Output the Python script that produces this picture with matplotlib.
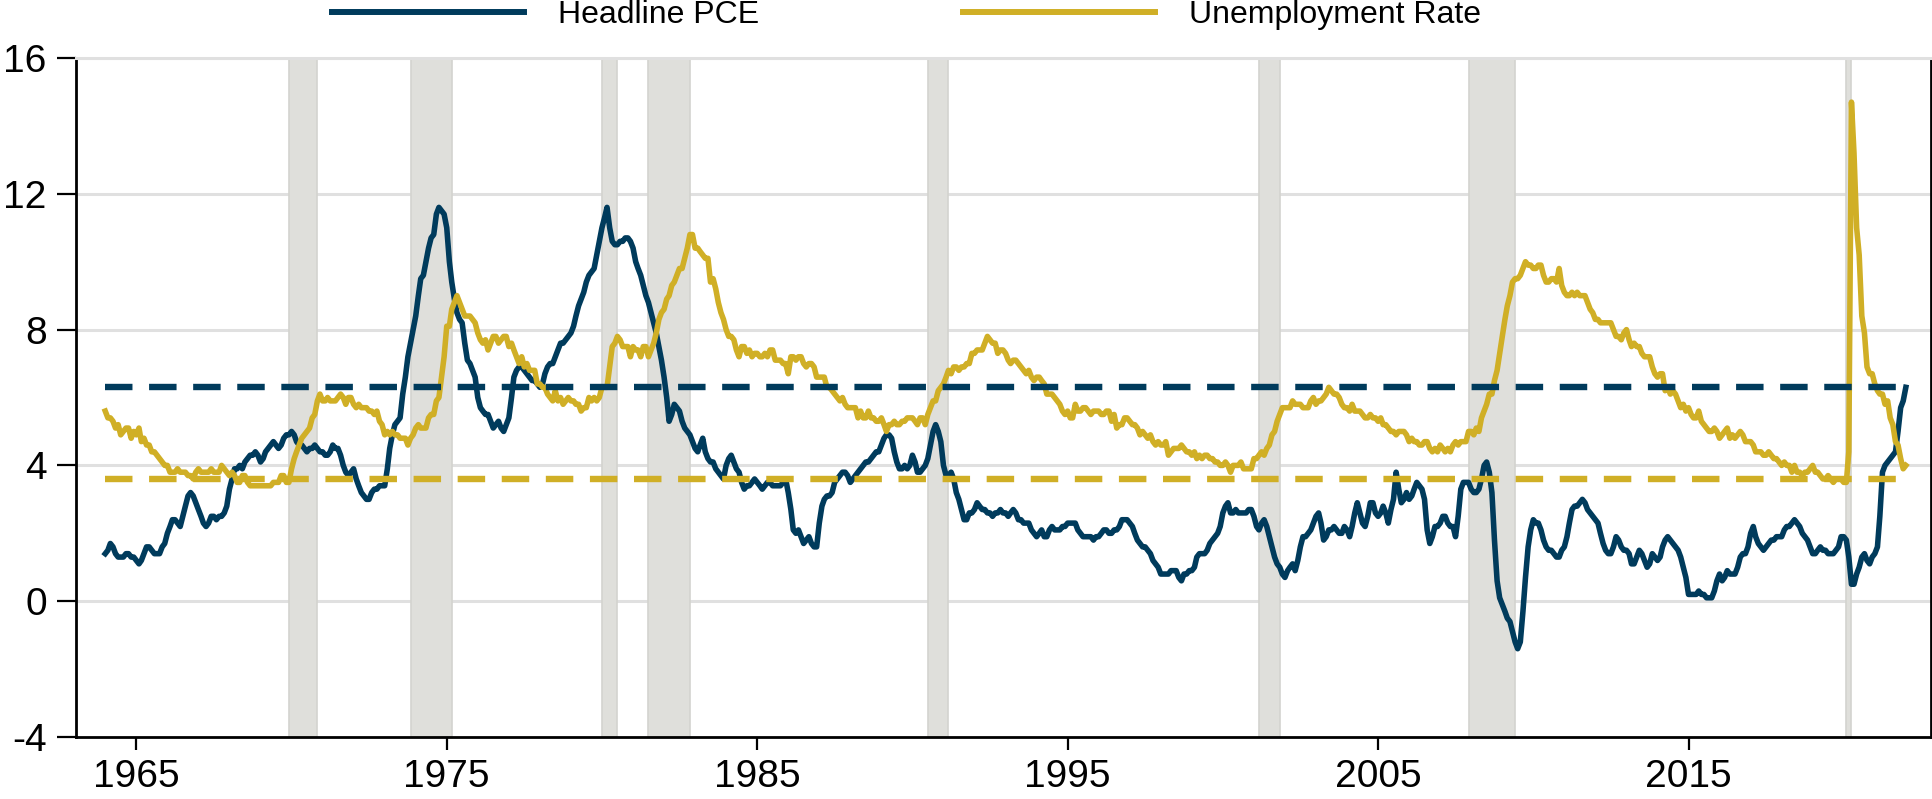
import numpy as np
import pandas as pd
import matplotlib
matplotlib.use("Agg")
import matplotlib.pyplot as plt
import matplotlib.dates as mdates
from matplotlib.lines import Line2D

plt.rcParams["font.family"] = ["Liberation Sans", "DejaVu Sans"]
plt.rcParams["axes.unicode_minus"] = False

NAVY = "#003B5C"
GOLD = "#D0AF26"
GRID = "#e0e0e0"
SHADE = "#dfdfdb"

# ── Data (monthly, Jan 1964 – Jan 2022) ───────────────────────────────────────
pce_by_year = [
    [1.4, 1.5, 1.7, 1.6, 1.4, 1.3, 1.3, 1.3, 1.4, 1.4, 1.3, 1.3],  # 1964
    [1.2, 1.1, 1.2, 1.4, 1.6, 1.6, 1.5, 1.4, 1.4, 1.4, 1.6, 1.7],
    [2.0, 2.2, 2.4, 2.4, 2.3, 2.2, 2.5, 2.8, 3.1, 3.2, 3.1, 2.9],
    [2.7, 2.5, 2.3, 2.2, 2.3, 2.5, 2.5, 2.4, 2.5, 2.5, 2.6, 2.8],
    [3.3, 3.6, 3.9, 3.9, 4.0, 3.9, 4.1, 4.2, 4.3, 4.3, 4.4, 4.3],
    [4.1, 4.2, 4.4, 4.5, 4.6, 4.7, 4.6, 4.5, 4.6, 4.8, 4.9, 4.9],
    [5.0, 4.9, 4.7, 4.6, 4.6, 4.5, 4.4, 4.5, 4.5, 4.6, 4.5, 4.4],  # 1970
    [4.4, 4.3, 4.3, 4.4, 4.6, 4.5, 4.5, 4.3, 4.0, 3.8, 3.7, 3.8],
    [3.9, 3.6, 3.4, 3.2, 3.1, 3.0, 3.0, 3.2, 3.3, 3.3, 3.4, 3.4],
    [3.4, 3.9, 4.5, 4.9, 5.2, 5.3, 5.4, 6.1, 6.6, 7.2, 7.6, 8.0],
    [8.4, 9.0, 9.5, 9.6, 10.0, 10.4, 10.7, 10.8, 11.4, 11.6, 11.5, 11.4],
    [11.0, 10.0, 9.4, 8.9, 8.5, 8.3, 8.2, 7.6, 7.1, 7.0, 6.8, 6.6],
    [6.0, 5.7, 5.6, 5.5, 5.5, 5.3, 5.1, 5.2, 5.3, 5.1, 5.0, 5.2],
    [5.4, 6.0, 6.6, 6.8, 6.9, 6.9, 6.8, 6.7, 6.6, 6.5, 6.5, 6.4],
    [6.3, 6.4, 6.7, 6.9, 7.0, 7.0, 7.2, 7.4, 7.6, 7.6, 7.7, 7.8],
    [7.9, 8.1, 8.4, 8.7, 8.9, 9.1, 9.4, 9.6, 9.7, 9.8, 10.2, 10.6],
    [11.0, 11.3, 11.6, 11.0, 10.6, 10.5, 10.5, 10.6, 10.6, 10.7, 10.7, 10.6],  # 1980
    [10.4, 10.0, 9.8, 9.6, 9.3, 9.0, 8.8, 8.5, 8.2, 7.9, 7.5, 7.1],
    [6.6, 6.0, 5.3, 5.5, 5.8, 5.7, 5.6, 5.3, 5.1, 5.0, 4.9, 4.7],
    [4.5, 4.4, 4.6, 4.8, 4.4, 4.2, 4.1, 4.1, 3.9, 3.8, 3.7, 3.6],
    [4.0, 4.2, 4.3, 4.1, 3.9, 3.8, 3.5, 3.3, 3.4, 3.4, 3.5, 3.6],
    [3.5, 3.4, 3.3, 3.4, 3.5, 3.5, 3.4, 3.4, 3.4, 3.4, 3.5, 3.6],
    [3.2, 2.7, 2.1, 2.0, 2.1, 1.9, 1.7, 1.8, 1.9, 1.7, 1.6, 1.6],
    [2.3, 2.8, 3.0, 3.1, 3.1, 3.2, 3.5, 3.6, 3.7, 3.8, 3.8, 3.7],
    [3.5, 3.6, 3.7, 3.8, 3.9, 4.0, 4.1, 4.1, 4.2, 4.3, 4.4, 4.4],
    [4.6, 4.8, 4.9, 4.9, 4.8, 4.4, 4.1, 3.9, 3.9, 4.0, 3.9, 4.0],
    [4.3, 4.1, 3.8, 3.8, 3.9, 4.0, 4.2, 4.6, 5.0, 5.2, 5.0, 4.7],  # 1990
    [4.0, 3.7, 3.7, 3.8, 3.6, 3.2, 3.0, 2.7, 2.4, 2.4, 2.6, 2.6],
    [2.7, 2.9, 2.8, 2.7, 2.7, 2.6, 2.6, 2.5, 2.6, 2.6, 2.7, 2.6],
    [2.6, 2.5, 2.6, 2.7, 2.6, 2.4, 2.4, 2.3, 2.3, 2.3, 2.1, 2.0],
    [1.9, 2.0, 2.1, 1.9, 1.9, 2.1, 2.2, 2.1, 2.1, 2.1, 2.2, 2.2],
    [2.3, 2.3, 2.3, 2.3, 2.1, 2.0, 1.9, 1.9, 1.9, 1.9, 1.8, 1.9],
    [1.9, 2.0, 2.1, 2.1, 2.0, 2.0, 2.1, 2.1, 2.2, 2.4, 2.4, 2.4],
    [2.3, 2.2, 2.0, 1.8, 1.7, 1.6, 1.6, 1.5, 1.4, 1.2, 1.1, 1.0],
    [0.8, 0.8, 0.8, 0.8, 0.9, 0.9, 0.9, 0.7, 0.6, 0.8, 0.8, 0.9],
    [0.9, 1.0, 1.3, 1.4, 1.4, 1.4, 1.5, 1.7, 1.8, 1.9, 2.0, 2.2],
    [2.6, 2.8, 2.9, 2.6, 2.6, 2.7, 2.6, 2.6, 2.6, 2.6, 2.7, 2.7],  # 2000
    [2.5, 2.2, 2.1, 2.3, 2.4, 2.2, 1.9, 1.6, 1.3, 1.1, 1.0, 0.8],
    [0.7, 0.9, 1.0, 1.1, 0.9, 1.2, 1.6, 1.9, 1.9, 2.0, 2.1, 2.3],
    [2.5, 2.6, 2.3, 1.8, 1.9, 2.1, 2.1, 2.2, 2.1, 2.0, 2.0, 2.2],
    [2.1, 1.9, 2.2, 2.6, 2.9, 2.6, 2.3, 2.2, 2.5, 2.9, 2.9, 2.6],
    [2.5, 2.6, 2.8, 2.6, 2.3, 2.7, 3.0, 3.8, 3.3, 2.9, 3.0, 3.2],
    [3.0, 3.1, 3.3, 3.5, 3.4, 3.3, 3.0, 2.1, 1.7, 1.9, 2.2, 2.2],
    [2.3, 2.5, 2.5, 2.3, 2.2, 2.2, 1.9, 2.5, 3.3, 3.5, 3.5, 3.5],
    [3.3, 3.2, 3.2, 3.3, 3.6, 4.0, 4.1, 3.8, 3.2, 1.8, 0.6, 0.1],
    [-0.1, -0.3, -0.5, -0.6, -0.9, -1.2, -1.4, -1.2, -0.3, 0.7, 1.6, 2.1],
    [2.4, 2.3, 2.3, 2.1, 1.8, 1.6, 1.5, 1.5, 1.4, 1.3, 1.3, 1.5],  # 2010
    [1.6, 1.9, 2.3, 2.7, 2.8, 2.8, 2.9, 3.0, 2.9, 2.7, 2.6, 2.5],
    [2.4, 2.3, 2.0, 1.7, 1.5, 1.4, 1.4, 1.6, 1.9, 1.8, 1.6, 1.5],
    [1.5, 1.4, 1.1, 1.1, 1.3, 1.5, 1.4, 1.2, 1.0, 1.1, 1.4, 1.3],
    [1.2, 1.3, 1.6, 1.8, 1.9, 1.8, 1.7, 1.6, 1.5, 1.3, 1.0, 0.7],
    [0.2, 0.2, 0.2, 0.2, 0.3, 0.2, 0.2, 0.1, 0.1, 0.1, 0.3, 0.6],
    [0.8, 0.6, 0.7, 0.9, 0.8, 0.8, 0.8, 1.0, 1.3, 1.4, 1.4, 1.6],
    [2.0, 2.2, 1.9, 1.7, 1.6, 1.5, 1.6, 1.7, 1.8, 1.8, 1.9, 1.9],
    [1.9, 2.1, 2.2, 2.2, 2.3, 2.4, 2.3, 2.2, 2.0, 1.9, 1.8, 1.6],
    [1.4, 1.4, 1.5, 1.6, 1.5, 1.5, 1.4, 1.4, 1.4, 1.5, 1.6, 1.9],
    [1.9, 1.8, 1.3, 0.5, 0.5, 0.8, 1.0, 1.3, 1.4, 1.2, 1.1, 1.3],  # 2020
    [1.4, 1.6, 2.5, 3.8, 4.0, 4.1, 4.2, 4.3, 4.4, 5.0, 5.7, 5.9],
    [6.3],                                                          # 2022
]

unrate_by_year = [
    [5.6, 5.4, 5.4, 5.3, 5.1, 5.2, 4.9, 5.0, 5.1, 5.1, 4.8, 5.0],  # 1964
    [4.9, 5.1, 4.7, 4.8, 4.6, 4.6, 4.4, 4.4, 4.3, 4.2, 4.1, 4.0],
    [4.0, 3.8, 3.8, 3.8, 3.9, 3.8, 3.8, 3.8, 3.7, 3.7, 3.6, 3.8],
    [3.9, 3.8, 3.8, 3.8, 3.8, 3.9, 3.8, 3.8, 3.8, 4.0, 3.9, 3.8],
    [3.7, 3.8, 3.7, 3.5, 3.5, 3.7, 3.7, 3.5, 3.4, 3.4, 3.4, 3.4],
    [3.4, 3.4, 3.4, 3.4, 3.4, 3.5, 3.5, 3.5, 3.7, 3.7, 3.5, 3.5],
    [3.9, 4.2, 4.4, 4.6, 4.8, 4.9, 5.0, 5.1, 5.4, 5.5, 5.9, 6.1],  # 1970
    [5.9, 5.9, 6.0, 5.9, 5.9, 5.9, 6.0, 6.1, 6.0, 5.8, 6.0, 6.0],
    [5.8, 5.7, 5.8, 5.7, 5.7, 5.7, 5.6, 5.6, 5.5, 5.6, 5.3, 5.2],
    [4.9, 5.0, 4.9, 5.0, 4.9, 4.9, 4.8, 4.8, 4.8, 4.6, 4.8, 4.9],
    [5.1, 5.2, 5.1, 5.1, 5.1, 5.4, 5.5, 5.5, 5.9, 6.0, 6.6, 7.2],
    [8.1, 8.1, 8.6, 8.8, 9.0, 8.8, 8.6, 8.4, 8.4, 8.4, 8.3, 8.2],
    [7.9, 7.7, 7.6, 7.7, 7.4, 7.6, 7.8, 7.8, 7.6, 7.7, 7.8, 7.8],
    [7.5, 7.6, 7.4, 7.2, 7.0, 7.2, 6.9, 7.0, 6.8, 6.8, 6.8, 6.4],
    [6.4, 6.3, 6.3, 6.1, 6.0, 5.9, 6.2, 5.9, 6.0, 5.8, 5.9, 6.0],
    [5.9, 5.9, 5.8, 5.8, 5.6, 5.7, 5.7, 6.0, 5.9, 6.0, 5.9, 6.0],
    [6.3, 6.3, 6.3, 6.9, 7.5, 7.6, 7.8, 7.7, 7.5, 7.5, 7.5, 7.2],  # 1980
    [7.5, 7.4, 7.4, 7.2, 7.5, 7.5, 7.2, 7.4, 7.6, 7.9, 8.3, 8.5],
    [8.6, 8.9, 9.0, 9.3, 9.4, 9.6, 9.8, 9.8, 10.1, 10.4, 10.8, 10.8],
    [10.4, 10.4, 10.3, 10.2, 10.1, 10.1, 9.4, 9.5, 9.2, 8.8, 8.5, 8.3],
    [8.0, 7.8, 7.8, 7.7, 7.4, 7.2, 7.5, 7.5, 7.3, 7.4, 7.2, 7.3],
    [7.3, 7.2, 7.2, 7.3, 7.2, 7.4, 7.4, 7.1, 7.1, 7.1, 7.0, 7.0],
    [6.7, 7.2, 7.2, 7.1, 7.2, 7.2, 7.0, 6.9, 7.0, 7.0, 6.9, 6.6],
    [6.6, 6.6, 6.6, 6.3, 6.3, 6.2, 6.1, 6.0, 5.9, 6.0, 5.8, 5.7],
    [5.7, 5.7, 5.7, 5.4, 5.6, 5.4, 5.4, 5.6, 5.4, 5.4, 5.3, 5.3],
    [5.4, 5.2, 5.0, 5.2, 5.2, 5.3, 5.2, 5.2, 5.3, 5.3, 5.4, 5.4],
    [5.4, 5.3, 5.2, 5.4, 5.4, 5.2, 5.5, 5.7, 5.9, 5.9, 6.2, 6.3],  # 1990
    [6.4, 6.6, 6.8, 6.7, 6.9, 6.9, 6.8, 6.9, 6.9, 7.0, 7.0, 7.3],
    [7.3, 7.4, 7.4, 7.4, 7.6, 7.8, 7.7, 7.6, 7.6, 7.3, 7.4, 7.4],
    [7.3, 7.1, 7.0, 7.1, 7.1, 7.0, 6.9, 6.8, 6.7, 6.8, 6.6, 6.5],
    [6.6, 6.6, 6.5, 6.4, 6.1, 6.1, 6.1, 6.0, 5.9, 5.8, 5.6, 5.5],
    [5.6, 5.4, 5.4, 5.8, 5.6, 5.6, 5.7, 5.7, 5.6, 5.5, 5.6, 5.6],
    [5.6, 5.5, 5.5, 5.6, 5.6, 5.3, 5.5, 5.1, 5.2, 5.2, 5.4, 5.4],
    [5.3, 5.2, 5.2, 5.1, 4.9, 5.0, 4.9, 4.8, 4.9, 4.7, 4.6, 4.7],
    [4.6, 4.6, 4.7, 4.3, 4.4, 4.5, 4.5, 4.5, 4.6, 4.5, 4.4, 4.4],
    [4.3, 4.4, 4.2, 4.3, 4.2, 4.3, 4.3, 4.2, 4.2, 4.1, 4.1, 4.0],
    [4.0, 4.1, 4.0, 3.8, 4.0, 4.0, 4.0, 4.1, 3.9, 3.9, 3.9, 3.9],  # 2000
    [4.2, 4.2, 4.3, 4.4, 4.3, 4.5, 4.6, 4.9, 5.0, 5.3, 5.5, 5.7],
    [5.7, 5.7, 5.7, 5.9, 5.8, 5.8, 5.8, 5.7, 5.7, 5.7, 5.9, 6.0],
    [5.8, 5.9, 5.9, 6.0, 6.1, 6.3, 6.2, 6.1, 6.1, 6.0, 5.8, 5.7],
    [5.7, 5.6, 5.8, 5.6, 5.6, 5.6, 5.5, 5.4, 5.4, 5.5, 5.4, 5.4],
    [5.3, 5.4, 5.2, 5.2, 5.1, 5.0, 5.0, 4.9, 5.0, 5.0, 5.0, 4.9],
    [4.7, 4.8, 4.7, 4.7, 4.6, 4.6, 4.7, 4.7, 4.5, 4.4, 4.5, 4.4],
    [4.6, 4.5, 4.4, 4.5, 4.4, 4.6, 4.7, 4.6, 4.7, 4.7, 4.7, 5.0],
    [5.0, 4.9, 5.1, 5.0, 5.4, 5.6, 5.8, 6.1, 6.1, 6.5, 6.8, 7.3],
    [7.8, 8.3, 8.7, 9.0, 9.4, 9.5, 9.5, 9.6, 9.8, 10.0, 9.9, 9.9],
    [9.8, 9.8, 9.9, 9.9, 9.6, 9.4, 9.4, 9.5, 9.5, 9.4, 9.8, 9.3],  # 2010
    [9.1, 9.0, 9.0, 9.1, 9.0, 9.1, 9.0, 9.0, 9.0, 8.8, 8.6, 8.5],
    [8.3, 8.3, 8.2, 8.2, 8.2, 8.2, 8.2, 8.0, 7.8, 7.8, 7.7, 7.9],
    [8.0, 7.7, 7.5, 7.6, 7.5, 7.5, 7.3, 7.2, 7.2, 7.2, 6.9, 6.7],
    [6.6, 6.7, 6.7, 6.2, 6.3, 6.1, 6.2, 6.1, 5.9, 5.7, 5.8, 5.6],
    [5.7, 5.5, 5.4, 5.4, 5.6, 5.3, 5.2, 5.1, 5.0, 5.0, 5.1, 5.0],
    [4.8, 4.9, 5.0, 5.1, 4.8, 4.9, 4.8, 4.9, 5.0, 4.9, 4.7, 4.7],
    [4.7, 4.6, 4.4, 4.4, 4.4, 4.3, 4.3, 4.4, 4.3, 4.2, 4.2, 4.1],
    [4.0, 4.1, 4.0, 4.0, 3.8, 4.0, 3.8, 3.8, 3.7, 3.8, 3.8, 3.9],
    [4.0, 3.8, 3.8, 3.7, 3.6, 3.6, 3.7, 3.6, 3.5, 3.6, 3.6, 3.6],
    [3.5, 3.5, 4.4, 14.7, 13.2, 11.0, 10.2, 8.4, 7.9, 6.9, 6.7, 6.7],  # 2020
    [6.4, 6.2, 6.1, 6.1, 5.8, 5.9, 5.4, 5.2, 4.7, 4.6, 4.2, 3.9],
    [4.0],                                                          # 2022
]

pce_latest = 6.3
unrate_latest_ref = 3.6

recessions = [
    ("1969-12-01", "1970-11-01"),
    ("1973-11-01", "1975-03-01"),
    ("1980-01-01", "1980-07-01"),
    ("1981-07-01", "1982-11-01"),
    ("1990-07-01", "1991-03-01"),
    ("2001-03-01", "2001-11-01"),
    ("2007-12-01", "2009-06-01"),
    ("2020-02-01", "2020-04-01"),
]

year_ticks = [1965, 1975, 1985, 1995, 2005, 2015]

pce = np.concatenate(pce_by_year)
unrate = np.concatenate(unrate_by_year)
dates = pd.date_range("1964-01-01", periods=len(pce), freq="MS")

# ── Figure ────────────────────────────────────────────────────────────────────
fig = plt.figure(figsize=(19.33, 7.99), dpi=100)
ax = fig.add_axes([76 / 1933, 62 / 799, 1855 / 1933, 679 / 799])

for y in [0, 4, 8, 12, 16]:
    ax.axhline(y, color=GRID, lw=2.2, zorder=0)

for s, e in recessions:
    ax.axvspan(pd.Timestamp(s), pd.Timestamp(e), facecolor=SHADE,
               edgecolor="#d3d3cf", lw=1.2, zorder=1)

ax.plot(dates, pce, color=NAVY, lw=4.0, zorder=3, solid_joinstyle="round")
ax.plot(dates, unrate, color=GOLD, lw=4.0, zorder=3, solid_joinstyle="round")

ax.plot([dates[0], dates[-1]], [pce_latest, pce_latest], color=NAVY, lw=4.6,
        ls=(0, (4.3, 2.6)), zorder=4)
ax.plot([dates[0], dates[-1]], [unrate_latest_ref, unrate_latest_ref], color=GOLD,
        lw=4.6, ls=(0, (4.3, 2.6)), zorder=4)

ax.set_ylim(-4, 16)
ax.set_yticks([-4, 0, 4, 8, 12, 16])
ax.set_xlim(pd.Timestamp("1963-01-22"), pd.Timestamp("2022-10-24"))
ax.set_xticks([pd.Timestamp(f"{y}-01-01") for y in year_ticks])
ax.xaxis.set_major_formatter(mdates.DateFormatter("%Y"))

for side in ["left", "bottom", "right"]:
    ax.spines[side].set_color("black")
    ax.spines[side].set_linewidth(2)
ax.spines["top"].set_color(GRID)
ax.spines["top"].set_linewidth(2.2)

ax.tick_params(axis="y", direction="out", length=14, width=1.6, pad=7,
               labelsize=28, right=False)
ax.tick_params(axis="x", direction="out", length=9.5, width=1.6, pad=6,
               labelsize=28)

handles = [Line2D([], [], color=NAVY, lw=4.3), Line2D([], [], color=GOLD, lw=4.3)]
fig.legend(handles, ["Headline PCE", "Unemployment Rate"], loc="center left",
           bbox_to_anchor=(332 / 1933, 1 - 15 / 799), ncol=2, frameon=False,
           fontsize=23, handlelength=6.0, handletextpad=1.06, columnspacing=6.4,
           borderpad=0, borderaxespad=0)

fig.savefig("out.png", dpi=100)
